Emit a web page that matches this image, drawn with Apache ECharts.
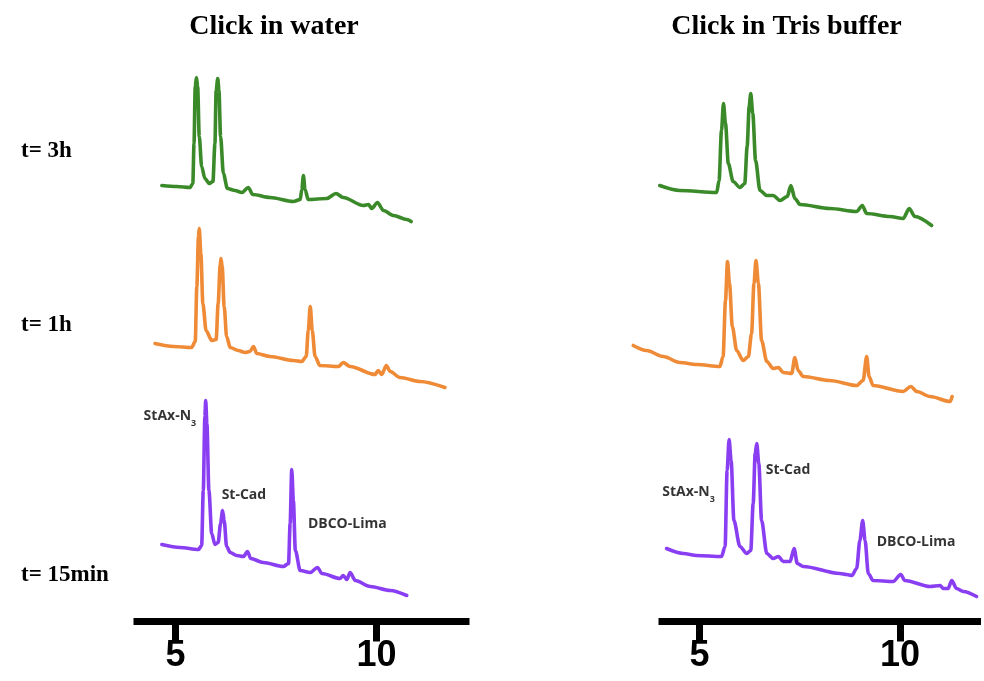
<!DOCTYPE html>
<html>
<head>
<meta charset="utf-8">
<title>Click reaction HPLC traces</title>
<script src="https://cdn.jsdelivr.net/npm/echarts@6/dist/echarts.min.js"></script>
<style>
  html, body { margin: 0; padding: 0; background: #fff; }
  #chart { width: 984px; height: 681px; }
</style>
</head>
<body>
<div id="chart"></div>
<script>
// Retention time (min) vs. detector signal (arb. units, traces stacked by time point)

const panelTitles = ['Click in water', 'Click in Tris buffer'];
const timeLabels = ['t= 3h', 't= 1h', 't= 15min'];
const xTicks = [5, 10];

// Click in water
const waterT3h = [
  [4.66,436],[5.03,435],[5.36,434],[5.43,438],[5.46,478],[5.49,535],[5.52,544],[5.55,535],
  [5.59,485],[5.65,455],[5.73,443],[5.84,438],[5.93,440],[5.98,478],[6.01,531],[6.05,543],
  [6.08,531],[6.12,485],[6.19,448],[6.29,433],[6.48,431],[6.65,429],[6.81,434],[6.92,427],
  [7.35,424],[7.93,420],[8.10,422],[8.14,432],[8.18,446],[8.22,432],[8.30,422],[8.76,423],
  [8.99,428],[9.17,424],[9.67,416],[9.80,417],[9.88,413],[10.02,419],[10.17,411],[10.42,406],
  [10.75,402],[10.86,400]
];
const waterT1h = [
  [4.49,278],[4.95,275],[5.40,274],[5.49,280],[5.53,335],[5.57,385],[5.59,393],[5.63,368],
  [5.68,318],[5.76,291],[5.90,281],[6.01,282],[6.06,318],[6.11,356],[6.13,363],[6.16,355],
  [6.21,315],[6.27,285],[6.36,274],[6.56,271],[6.73,269],[6.85,270],[6.94,275],[7.02,268],
  [7.35,265],[7.93,261],[8.14,260],[8.25,265],[8.30,291],[8.35,315],[8.40,291],[8.47,265],
  [8.59,256],[9.05,255],[9.17,259],[9.34,255],[9.96,247],[10.04,251],[10.13,247],[10.24,256],
  [10.34,250],[10.58,244],[11.08,240],[11.70,234]
];
const waterT15 = [
  [4.66,77],[5.11,74],[5.57,72],[5.65,76],[5.69,131],[5.73,205],[5.75,221],[5.78,198],
  [5.83,131],[5.90,88],[5.98,77],[6.06,79],[6.12,98],[6.17,111],[6.21,101],[6.27,75],
  [6.36,69],[6.52,66],[6.69,65],[6.79,70],[6.87,63],[7.18,59],[7.68,55],[7.81,58],
  [7.85,98],[7.89,152],[7.93,121],[7.98,71],[8.10,51],[8.35,49],[8.53,54],[8.64,48],
  [9.09,43],[9.17,46],[9.26,42],[9.34,49],[9.47,41],[9.84,35],[10.34,31],[10.75,26]
];

// Click in Tris buffer
const trisT3h = [
  [4.01,436],[4.51,431],[5.43,429],[5.49,441],[5.55,491],[5.60,518],[5.65,498],[5.72,458],
  [5.84,440],[6.01,434],[6.13,438],[6.19,475],[6.24,515],[6.28,528],[6.33,508],[6.40,461],
  [6.51,431],[6.68,426],[6.84,426],[7.01,421],[7.19,425],[7.28,436],[7.38,423],[7.51,417],
  [8.25,413],[8.92,410],[9.06,416],[9.17,408],[9.75,405],[10.08,403],[10.23,413],[10.37,405],
  [10.79,396]
];
const trisT1h = [
  [3.35,276],[3.68,271],[4.10,265],[4.51,259],[4.93,257],[5.51,255],[5.59,265],[5.65,321],
  [5.70,360],[5.75,338],[5.82,295],[5.93,271],[6.09,261],[6.22,265],[6.30,288],[6.36,338],
  [6.41,361],[6.47,338],[6.55,281],[6.68,260],[6.84,253],[6.97,254],[7.09,249],[7.30,248],
  [7.38,264],[7.46,251],[7.59,245],[8.25,241],[8.92,236],[9.08,241],[9.17,265],[9.23,245],
  [9.33,236],[10.08,230],[10.27,235],[10.42,230],[10.75,225],[11.25,220],[11.30,225]
];
const trisT15 = [
  [4.18,73],[4.60,68],[4.93,66],[5.55,65],[5.64,75],[5.69,151],[5.74,182],[5.79,161],
  [5.86,101],[6.01,75],[6.18,68],[6.28,71],[6.34,118],[6.39,168],[6.43,178],[6.48,158],
  [6.55,101],[6.68,68],[6.84,63],[6.97,65],[7.09,60],[7.26,60],[7.36,73],[7.44,58],
  [7.59,55],[8.50,48],[8.67,47],[8.80,46],[8.92,53],[9.00,81],[9.07,101],[9.13,81],
  [9.21,48],[9.33,41],[9.83,40],[10.02,47],[10.12,41],[10.75,35],[11.00,36],[11.08,33],
  [11.20,33],[11.29,41],[11.41,33],[11.58,30],[11.91,25]
];

// Peak annotations: [label, time, signal]
const waterPeakNames = [['StAx-N3', 4.86, 205], ['St-Cad', 6.70, 126], ['DBCO-Lima', 9.27, 97]];
const trisPeakNames  = [['StAx-N3', 4.73, 129], ['St-Cad', 7.21, 151], ['DBCO-Lima', 10.40, 79]];

const traceColors = ['#3b8a2a', '#ef8a36', '#8a3ef2'];

const chart = echarts.init(document.getElementById('chart'), null, { renderer: 'canvas' });

// Visible retention-time axis
function shownAxis(gridIndex, min, max) {
  return {
    gridIndex, type: 'value', min, max, position: 'bottom',
    axisLine: { show: true, onZero: false, lineStyle: { color: '#000', width: 7, cap: 'butt' } },
    axisTick: { show: true, customValues: xTicks, length: 20, lineStyle: { color: '#000', width: 7 } },
    axisLabel: {
      customValues: xTicks, color: '#000', fontFamily: 'Liberation Sans',
      fontWeight: 'bold', fontSize: 36, margin: 17
    },
    splitLine: { show: false }
  };
}

// Same time scale, but without its own axis line (traces may start left of the drawn axis)
function hiddenAxis(gridIndex, min, max) {
  return { gridIndex, type: 'value', min, max, show: false };
}

function traceSeries(data, color, idx) {
  return {
    type: 'line', xAxisIndex: idx, yAxisIndex: idx, data,
    showSymbol: false, symbol: 'none', smooth: 0.3, smoothMonotone: 'x',
    clip: false, silent: true,
    lineStyle: { color, width: 3.6, join: 'round', cap: 'round' }
  };
}

function nameFormatter(name) {
  return name === 'StAx-N3' ? '{b|StAx-N}{s|3}' : '{b|' + name + '}';
}

function labelSeries(list, idx) {
  return {
    type: 'scatter', xAxisIndex: idx, yAxisIndex: idx, symbolSize: 0, silent: true,
    data: list.map(p => ({ value: [p[1], p[2]], name: p[0] })),
    label: {
      show: true, position: 'inside',
      formatter: params => nameFormatter(params.name),
      rich: {
        b: { fontFamily: 'Open Sans', fontWeight: 'bold', fontSize: 14, color: '#000',
             lineHeight: 22, verticalAlign: 'middle' },
        s: { fontFamily: 'Open Sans', fontWeight: 'bold', fontSize: 9, color: '#000',
             lineHeight: 9, verticalAlign: 'bottom' }
      }
    }
  };
}

// right panel: 40.1 px per minute on both the trace grid and the axis grid
const trisAxisMin = 3.98, trisAxisMax = 12.02;
const trisDataMin = trisAxisMin - 28.5 / 40.1;

const option = {
  backgroundColor: '#fff',
  animation: false,
  grid: [
    { left: 133.5, width: 336, top: 61.5, height: 560, outerBoundsMode: 'none' },
    { left: 630, width: 351, top: 61.5, height: 560, outerBoundsMode: 'none' },
    { left: 658.5, width: 322.5, top: 61.5, height: 560, outerBoundsMode: 'none' }
  ],
  xAxis: [
    shownAxis(0, 3.955, 12.31),
    hiddenAxis(1, trisDataMin, trisAxisMax),
    shownAxis(2, trisAxisMin, trisAxisMax)
  ],
  yAxis: [
    { gridIndex: 0, type: 'value', min: 0, max: 560, show: false },
    { gridIndex: 1, type: 'value', min: 0, max: 560, show: false },
    { gridIndex: 2, type: 'value', min: 0, max: 560, show: false }
  ],
  series: [
    traceSeries(waterT3h, traceColors[0], 0),
    traceSeries(waterT1h, traceColors[1], 0),
    traceSeries(waterT15, traceColors[2], 0),
    traceSeries(trisT3h, traceColors[0], 1),
    traceSeries(trisT1h, traceColors[1], 1),
    traceSeries(trisT15, traceColors[2], 1),
    labelSeries(waterPeakNames, 0),
    labelSeries(trisPeakNames, 1)
  ],
  graphic: [
    { type: 'text', x: 274, y: 27, silent: true,
      style: { text: panelTitles[0], font: 'bold 28px "Liberation Serif"', fill: '#000', align: 'center', verticalAlign: 'middle' } },
    { type: 'text', x: 786.5, y: 27, silent: true,
      style: { text: panelTitles[1], font: 'bold 28px "Liberation Serif"', fill: '#000', align: 'center', verticalAlign: 'middle' } },
    { type: 'text', x: 21, y: 151, silent: true,
      style: { text: timeLabels[0], font: 'bold 23px "Liberation Serif"', fill: '#000', align: 'left', verticalAlign: 'middle' } },
    { type: 'text', x: 21, y: 325, silent: true,
      style: { text: timeLabels[1], font: 'bold 23px "Liberation Serif"', fill: '#000', align: 'left', verticalAlign: 'middle' } },
    { type: 'text', x: 21, y: 575, silent: true,
      style: { text: timeLabels[2], font: 'bold 23px "Liberation Serif"', fill: '#000', align: 'left', verticalAlign: 'middle' } }
  ]
};

chart.setOption(option);
</script>
</body>
</html>
